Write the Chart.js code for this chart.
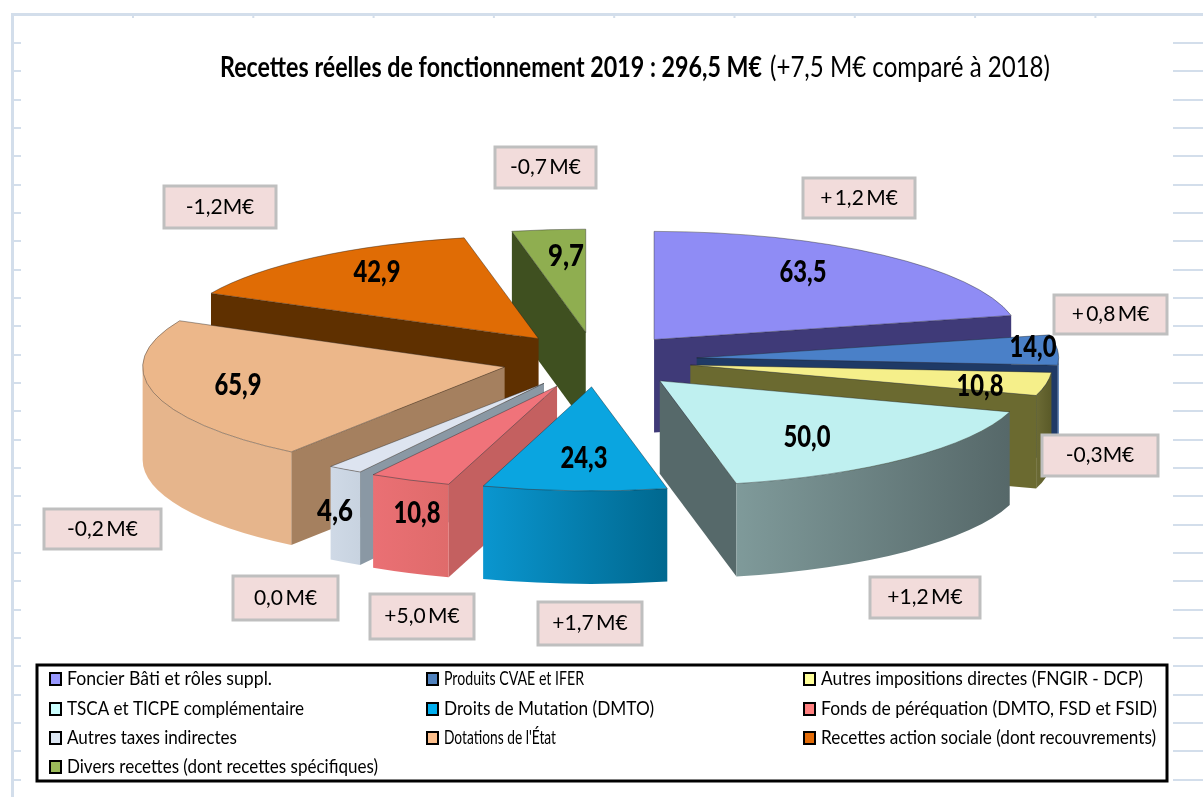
<!DOCTYPE html>
<html lang="fr"><head><meta charset="utf-8">
<style>html,body{margin:0;padding:0;background:#fff}canvas{display:block}</style>
<script src="https://cdn.jsdelivr.net/npm/chart.js@4/dist/chart.umd.min.js"></script>
</head><body><canvas id="c" width="1203" height="797"></canvas>
<script>
const categories = ["Foncier Bâti et rôles suppl.","Produits CVAE et IFER","Autres impositions directes (FNGIR - DCP)","TSCA et TICPE complémentaire","Droits de Mutation (DMTO)","Fonds de péréquation (DMTO, FSD et FSID)","Autres taxes indirectes","Dotations de l'État","Recettes action sociale (dont recouvrements)","Divers recettes (dont recettes spécifiques)"];
const values = [63.5,14.0,10.8,50.0,24.3,10.8,4.6,65.9,42.9,9.7];
const deltaLabels = ["+ 1,2 M€","+ 0,8 M€","-0,3M€","+1,2 M€","+1,7 M€","+5,0 M€","0,0 M€","-0,2 M€","-1,2M€","-0,7 M€"];
const titleBold = "Recettes réelles de fonctionnement 2019 : 296,5 M€";
const titleRest = "(+7,5 M€ comparé à 2018)";

// styles
const topColors = ["#8f8cf5","#4a80c8","#f5ef8a","#bff0f0","#0aa5e0","#f0737a","#dde4f0","#ecb78a","#e06c05","#8fae50"];
const radialColors = ["#3f3a78","#1f3a66","#6b6a30","#56696a","#00688f","#c46060","#8a98a4","#a5805f","#5f3000","#3f5020"];
const wallLeft = ["#3f3a78","#2a5a9a","#6c6b35","#7f9a9a","#0a96cf","#ea7074","#cfd9e6","#e6b58c","#5f3000","#3f5020"];
const wallRight = ["#3f3a78","#2a5a9a","#5a5a28","#566869","#00688f","#df6b6b","#c8d3e0","#e6b58c","#5f3000","#3f5020"];
const legendColors = ["#9999ff","#4f81bd","#ffff99","#ccffff","#00aeef","#ff8080","#dce6f2","#fdbf8c","#e36c09","#9bbb59"];
const explode = [98,100,97,96,96,86,91,90,92,100];
// fine placement per slice: dx, dy, width factor, height factor
const tweak = [[-2,1,1.012,1.05],[2,0,1,1],[0,0,1,1],[0,1,1.012,1.02],[1,0,1,1.01],[-3,4,1,1],[-1,2,1,1],[-3,1,1,1.02],[0,-1,1.008,1],[1,0,1,1]];
const drawOrder = [9,8,0,1,2,7,6,5,3,4];
const GEO = {cx:595, cy:360, rx:362, ry:103, squash:0.28, depth:93};
const valuePos = [[803,272],[1033,347],[980,386],[807,437],[584,458],[417,513],[335,511],[238,385],[377,272],[566,256]];
const deltaBoxes = [[803,178,112,40],[1054,295,113,39],[1042,435,116,41],[870,577,110,41],[538,602,104,43],[370,594,104,45],[233,576,105,44],[44,509,117,40],[164,186,112,42],[495,147,101,41]];
const legendCols = [49,426,803], legendRows = [679,709,738,767];
const legendWidths = [205,140,322,237,210,336,170,112,335,311];
const GRID = "#d3deeb";
const FONT = "Lato";

function fit(ctx,text,x,y,w,font,color,align){
  ctx.save(); ctx.font=font; ctx.fillStyle=color; ctx.textBaseline="middle"; ctx.textAlign="left";
  const m=ctx.measureText(text).width, s=w/m;
  const x0 = align==="center" ? x-w/2 : x;
  ctx.translate(x0,y); ctx.scale(s,1); ctx.fillText(text,0,0); ctx.restore();
}

const pie3d = {
  id:"pie3d",
  beforeDraw(chart){
    const c=chart.ctx; c.save(); c.fillStyle="#fff"; c.fillRect(0,0,1203,797);
    c.fillStyle=GRID;
    c.fillRect(11,13,3,784); c.fillRect(11,13,1192,3);
    for(let x=132;x<1203;x+=120.3) c.fillRect(x,16,2,2);
    for(let i=0;i<27;i++){ const y=Math.round(42+i*28.33); c.fillRect(14,y,7,2); c.fillRect(1173,y,30,2); }
    c.restore();
  },
  beforeDatasetsDraw(chart){
    const ctx=chart.ctx, arcs=chart.getDatasetMeta(0).data;
    for(const i of drawOrder){
      const el=arcs[i], s=el.startAngle, e=el.endAngle, mid=(s+e)/2, off=explode[i], t=tweak[i];
      const ax=GEO.cx+off*Math.cos(mid)+t[0], ay=GEO.cy+off*GEO.squash*Math.sin(mid)+t[1];
      const rx=GEO.rx*t[2], ry=GEO.ry*t[3];
      const P=a=>[ax+rx*Math.cos(a), ay+ry*Math.sin(a)], D=GEO.depth;
      const M=P(mid);
      for(const a of [s,e]){
        const p=P(a), ex=p[0]-ax, ey=p[1]-ay;
        const crossDown=ex*1, crossMid=ex*(M[1]-ay)-ey*(M[0]-ax);
        if(crossDown*crossMid<0){
          ctx.fillStyle=radialColors[i];
          ctx.beginPath(); ctx.moveTo(ax,ay); ctx.lineTo(p[0],p[1]); ctx.lineTo(p[0],p[1]+D); ctx.lineTo(ax,ay+D); ctx.closePath(); ctx.fill();
        }
      }
      const lo=Math.max(s,0), hi=Math.min(e,Math.PI);
      if(hi>lo){
        const pl=P(lo), pr=P(hi), x0=Math.min(pl[0],pr[0]), x1=Math.max(pl[0],pr[0]);
        const g=ctx.createLinearGradient(x0,0,x1,0); g.addColorStop(0,wallLeft[i]); g.addColorStop(1,wallRight[i]);
        ctx.fillStyle=g; ctx.beginPath();
        ctx.ellipse(ax,ay,rx,ry,0,lo,hi,false);
        ctx.ellipse(ax,ay+D,rx,ry,0,hi,lo,true);
        ctx.closePath(); ctx.fill();
      }
      // top face: the library's own arc element, projected
      ctx.save();
      ctx.translate(ax,ay); ctx.scale(rx/el.outerRadius,ry/el.outerRadius); ctx.translate(-el.x,-el.y);
      el.draw(ctx);
      ctx.restore();
      ctx.strokeStyle="rgba(30,30,30,0.4)"; ctx.lineWidth=1; ctx.beginPath();
      ctx.moveTo(ax,ay); ctx.ellipse(ax,ay,rx,ry,0,s,e,false); ctx.closePath(); ctx.stroke();
    }
    return false;
  },
  afterDraw(chart){
    const ctx=chart.ctx, labels=chart.data.labels, vals=chart.data.datasets[0].data;
    fit(ctx,titleBold,220,68,542,"bold 28px "+FONT,"#000");
    fit(ctx,titleRest,770,68,280,"28px "+FONT,"#000");
    vals.forEach((v,i)=>{
      const t=v.toFixed(1).replace(".",",");
      fit(ctx,t,valuePos[i][0],valuePos[i][1],t.length>3?47:36,"900 31px "+FONT,"#000","center");
    });
    deltaLabels.forEach((t,i)=>{
      const [x,y,w,h]=deltaBoxes[i];
      ctx.fillStyle="#f2dcdb"; ctx.strokeStyle="#bfbfbf"; ctx.lineWidth=3;
      ctx.fillRect(x,y,w,h); ctx.strokeRect(x,y,w,h);
      ctx.font="21px "+FONT; ctx.wordSpacing="-3px"; ctx.fillStyle="#000"; ctx.textAlign="center"; ctx.textBaseline="middle";
      ctx.fillText(t,x+w/2,y+h/2); ctx.wordSpacing="0px";
    });
    ctx.strokeStyle="#000"; ctx.lineWidth=3; ctx.fillStyle="#fff";
    ctx.fillRect(37,665,1130,116); ctx.strokeRect(37,665,1130,116);
    labels.forEach((t,i)=>{
      const x=legendCols[i%3], y=legendRows[Math.floor(i/3)];
      ctx.fillStyle=legendColors[i]; ctx.fillRect(x+1,y-6,11,12);
      ctx.strokeStyle="#000"; ctx.lineWidth=2; ctx.strokeRect(x+1,y-6,11,12);
      fit(ctx,t,x+18,y,legendWidths[i],"20px "+FONT,"#000");
    });
  }
};

new Chart(document.getElementById("c"),{
  type:"pie",
  data:{labels:categories,datasets:[{data:values,backgroundColor:topColors,borderWidth:0}]},
  options:{responsive:false,animation:false,events:[],plugins:{legend:{display:false},title:{display:false},tooltip:{enabled:false}}},
  plugins:[pie3d]
});
</script></body></html>
